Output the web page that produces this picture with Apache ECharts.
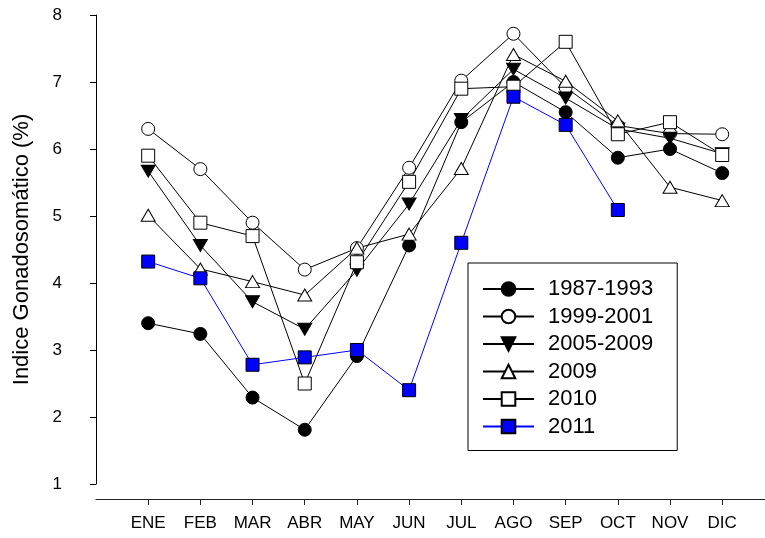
<!DOCTYPE html>
<html>
<head>
<meta charset="utf-8">
<script src="https://cdn.jsdelivr.net/npm/echarts@6/dist/echarts.min.js"></script>
<style>
html, body { margin: 0; padding: 0; background: #fff; }
#gsiChart { width: 765px; height: 538px; }
</style>
</head>
<body>
<div id="gsiChart"></div>
<script>
// meses y valores
var months = ['ENE', 'FEB', 'MAR', 'ABR', 'MAY', 'JUN', 'JUL', 'AGO', 'SEP', 'OCT', 'NOV', 'DIC'];
var yTicks = [1, 2, 3, 4, 5, 6, 7, 8];
var g1987_1993 = [3.4, 3.24, 2.29, 1.81, 2.91, 4.56, 6.4, 7.0, 6.55, 5.87, 6.0, 5.64];
var g1999_2001 = [6.3, 5.7, 4.9, 4.2, 4.52, 5.72, 7.02, 7.72, 6.92, 6.35, 6.23, 6.22];
var g2005_2009 = [5.67, 4.56, 3.72, 3.31, 4.19, 5.18, 6.44, 7.19, 6.76, 6.3, 6.16, 5.93];
var g2009 = [5.01, 4.21, 4.02, 3.82, 4.52, 4.73, 5.71, 7.41, 7.01, 6.42, 5.43, 5.23];
var g2010 = [5.9, 4.9, 4.7, 2.5, 4.31, 5.51, 6.9, 6.93, 7.6, 6.22, 6.4, 5.91];
var g2011 = [4.32, 4.07, 2.78, 2.89, 3.0, 2.4, 4.6, 6.78, 6.36, 5.09, null, null];

var fontFam = '"Liberation Sans", Arial, sans-serif';

function toPoints(vals) {
  var out = [];
  vals.forEach(function (v, i) {
    if (v !== null) out.push([i + 1, v]);
  });
  return out;
}

function makeSeries(name, vals, symbol, fill, lineColor, rotate, size) {
  return {
    name: name,
    type: 'line',
    data: toPoints(vals),
    symbol: symbol,
    symbolSize: size,
    symbolRotate: rotate,
    showAllSymbol: true,
    lineStyle: { color: lineColor, width: 1 },
    itemStyle: { color: fill, borderColor: '#000', borderWidth: 1 },
    emphasis: { disabled: true }
  };
}

var monthPos = months.map(function (m, i) { return i + 1; });

var chart = echarts.init(document.getElementById('gsiChart'));
var option = {
  animation: false,
  textStyle: { fontFamily: fontFam, color: '#000' },
  grid: { left: 96, right: 0, top: 15, bottom: 54 },
  legend: {
    orient: 'vertical',
    left: 468,
    top: 263,
    padding: [15, 24, 13, 14],
    borderColor: '#000',
    borderWidth: 1,
    itemWidth: 51,
    itemHeight: 17,
    itemGap: 5.5,
    selectedMode: false,
    textStyle: { fontSize: 22, fontFamily: fontFam, color: '#000', padding: [0, 0, 0, 9] }
  },
  xAxis: {
    type: 'value',
    min: 0,
    max: 12.82,
    interval: 1,
    offset: 15,
    splitLine: { show: false },
    axisLine: { lineStyle: { color: '#222', width: 1.2 } },
    axisTick: { length: 6, customValues: monthPos, lineStyle: { color: '#222' } },
    axisLabel: {
      customValues: monthPos,
      formatter: function (v) { return months[v - 1] || ''; },
      fontSize: 17,
      color: '#000',
      margin: 16
    }
  },
  yAxis: {
    type: 'value',
    min: yTicks[0],
    max: yTicks[yTicks.length - 1],
    interval: 1,
    offset: 19,
    name: 'Indice Gonadosomático (%)',
    nameLocation: 'middle',
    nameGap: 44,
    nameTextStyle: { fontSize: 22, color: '#000', fontFamily: fontFam },
    splitLine: { show: false },
    axisLine: { show: true, lineStyle: { color: '#000', width: 1 } },
    axisTick: { show: true, length: 6, lineStyle: { color: '#000' } },
    axisLabel: { fontSize: 17, color: '#000', margin: 15 }
  },
  series: [
    makeSeries('1987-1993', g1987_1993, 'circle', '#000', '#000', 0, 13),
    makeSeries('1999-2001', g1999_2001, 'circle', '#fff', '#000', 0, 13),
    makeSeries('2005-2009', g2005_2009, 'triangle', '#000', '#000', 180, [14, 12]),
    makeSeries('2009', g2009, 'triangle', '#fff', '#000', 0, [14, 12]),
    makeSeries('2010', g2010, 'rect', '#fff', '#000', 0, 13),
    makeSeries('2011', g2011, 'rect', '#0000ff', '#0000ff', 0, 13)
  ]
};
chart.setOption(option);
</script>
</body>
</html>
